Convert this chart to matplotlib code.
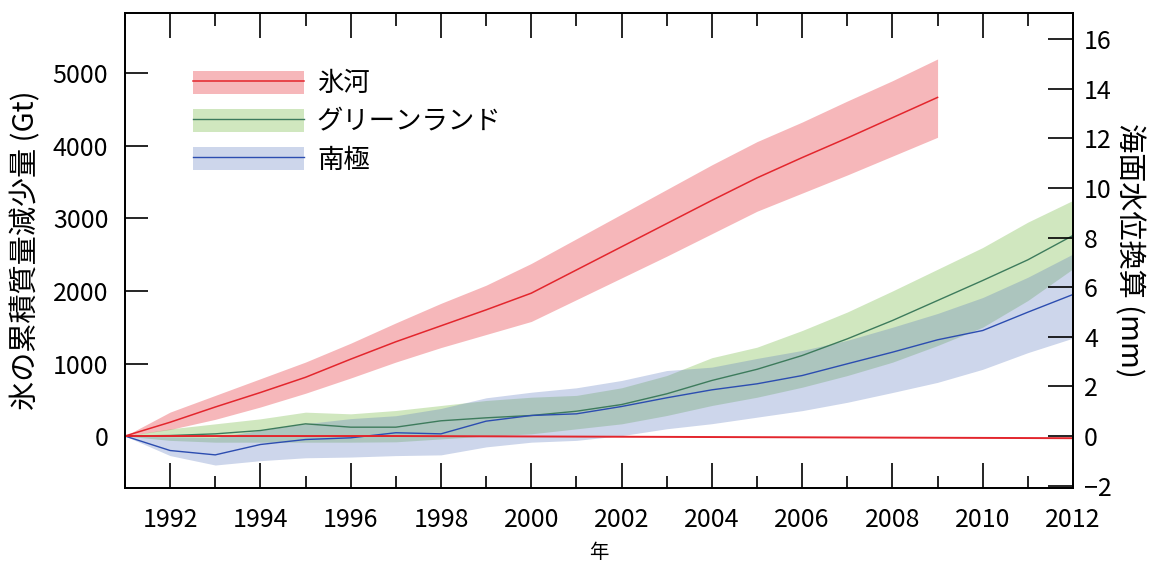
import numpy as np
import matplotlib
matplotlib.use('Agg')
import matplotlib.pyplot as plt
from matplotlib.patches import Patch
from matplotlib.lines import Line2D
from matplotlib.ticker import MultipleLocator

plt.rcParams['font.family'] = ['Noto Sans CJK JP', 'DejaVu Sans']

# data (Gt, cumulative loss)
years = np.arange(1991, 2013)
glacier_years = np.arange(1991, 2010)

glacier = [0, 190, 400, 600, 810, 1060, 1300, 1520, 1740, 1970, 2290, 2610,
           2930, 3250, 3560, 3840, 4110, 4390, 4670]
glacier_hi = [0, 330, 560, 790, 1020, 1280, 1560, 1830, 2080, 2380, 2720, 3060,
              3400, 3740, 4060, 4330, 4620, 4900, 5200]
glacier_lo = [0, 90, 230, 400, 590, 800, 1020, 1220, 1400, 1580, 1880, 2180,
              2480, 2790, 3100, 3350, 3600, 3860, 4120]

greenland = [0, 7, 30, 76, 168, 122, 122, 210, 251, 283, 342, 434,
             582, 766, 920, 1110, 1340, 1593, 1869, 2145, 2430, 2766]
greenland_hi = [0, 99, 168, 237, 329, 306, 352, 421, 490, 535, 560, 665,
                834, 1080, 1225, 1455, 1710, 2000, 2300, 2600, 2950, 3250]
greenland_lo = [0, -60, -85, -85, -85, -85, -80, -40, 0, 30, 99, 168,
                283, 421, 535, 673, 834, 1018, 1248, 1501, 1869, 2306]

antarctica = [0, -200, -260, -117, -48, -25, 45, 30, 205, 283, 306, 407,
              527, 637, 720, 834, 996, 1156, 1327, 1455, 1708, 1952]
antarctica_hi = [0, -10, -20, 80, 170, 240, 280, 380, 527, 604, 665, 766,
                 903, 950, 1070, 1180, 1320, 1500, 1690, 1910, 2190, 2510]
antarctica_lo = [0, -270, -400, -340, -300, -290, -270, -260, -150, -85, -60, 5,
                 100, 170, 260, 350, 465, 600, 740, 920, 1150, 1350]

baseline = [0, 0, 0, 0, 0, 0, 0, -2, -4, -6, -8, -10, -12, -14, -16, -18,
            -20, -22, -24, -26, -28, -30]

GT_PER_MM = 342

red = '#e3262d'
green_line = '#3d7b5c'
blue_line = '#2c4db0'
red_fill = '#e8434b'
green_fill = '#79bb4a'
blue_fill = '#5a78bd'

fig = plt.figure(figsize=(11.57, 5.63), dpi=100)
ax = fig.add_axes([0.108, 0.1332, 0.8194, 0.8437])

ax.fill_between(glacier_years, glacier_lo, glacier_hi, color=red_fill, alpha=0.38, lw=0)
ax.fill_between(years, greenland_lo, greenland_hi, color=green_fill, alpha=0.35, lw=0)
ax.fill_between(years, antarctica_lo, antarctica_hi, color=blue_fill, alpha=0.3, lw=0)

ax.plot(glacier_years, glacier, color=red, lw=1.1)
ax.plot(years, greenland, color=green_line, lw=1.0)
ax.plot(years, antarctica, color=blue_line, lw=1.0)
ax.plot(years, baseline, color=red, lw=1.4)

ax.set_xlim(1991, 2012)
ax.set_ylim(-717, 5834)
ax.xaxis.set_major_locator(MultipleLocator(2))
ax.xaxis.set_minor_locator(MultipleLocator(1))
ax.set_xticks(np.arange(1992, 2013, 2))
ax.set_yticks(np.arange(0, 5001, 1000))
ax.tick_params(axis='x', which='major', direction='in', length=18, width=1.2,
               top=True, labelsize=18, pad=14)
ax.tick_params(axis='x', which='minor', direction='in', length=9, width=1.2, top=True)
ax.tick_params(axis='y', which='major', direction='in', length=16.5, width=1.2,
               labelsize=18, pad=12)
for s in ax.spines.values():
    s.set_linewidth(1.3)

ax.set_ylabel('氷の累積質量減少量 (Gt)', fontsize=21, labelpad=8)
ax.set_xlabel('年', fontsize=14, labelpad=6)

ax2 = ax.twinx()
ax2.set_ylim(-717 / GT_PER_MM, 5834 / GT_PER_MM)
ax2.set_yticks(np.arange(-2, 17, 2))
ax2.tick_params(axis='y', direction='in', length=18, width=1.2, labelsize=18, pad=8)
ax2.set_ylabel('海面水位換算 (mm)', fontsize=21, rotation=270, labelpad=23)
for s in ax2.spines.values():
    s.set_linewidth(1.3)

handles = [
    (Patch(facecolor=red_fill, alpha=0.38, lw=0), Line2D([], [], color=red, lw=1.1)),
    (Patch(facecolor=green_fill, alpha=0.35, lw=0), Line2D([], [], color=green_line, lw=1.0)),
    (Patch(facecolor=blue_fill, alpha=0.3, lw=0), Line2D([], [], color=blue_line, lw=1.0)),
]
labels = ['氷河', 'グリーンランド', '南極']
ax.legend(handles, labels, loc='upper left', bbox_to_anchor=(0.0717, 0.879),
          frameon=False, fontsize=19, handlelength=4.2, handleheight=0.95,
          handletextpad=0.5, labelspacing=0.42, borderpad=0, borderaxespad=0)

fig.savefig('out.png', dpi=100)
